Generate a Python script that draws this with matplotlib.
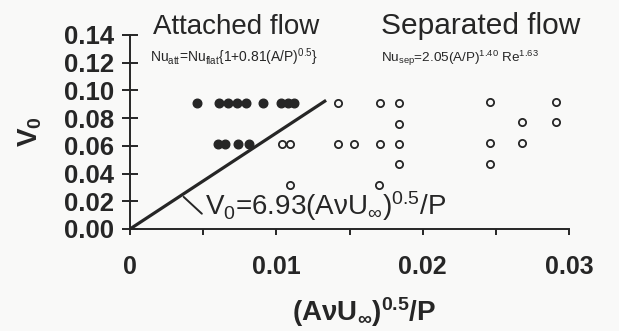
import matplotlib
matplotlib.use("Agg")
import matplotlib.pyplot as plt

plt.rcParams['font.family'] = ['Liberation Sans', 'DejaVu Sans']
plt.rcParams['mathtext.default'] = 'regular'

# Attached flow (filled)
att_x = [0.0046, 0.0061, 0.0067, 0.0073, 0.0079, 0.0091, 0.0103, 0.0108, 0.0112,
         0.0060, 0.0065, 0.0074, 0.0081]
att_y = [0.091, 0.091, 0.091, 0.091, 0.091, 0.091, 0.091, 0.091, 0.091,
         0.061, 0.061, 0.061, 0.061]
# Separated flow (open)
sep_x = [0.0104, 0.0109, 0.0109,
         0.0142, 0.0171, 0.0184, 0.0184, 0.0142, 0.0153, 0.0171, 0.0184, 0.0184, 0.0170,
         0.0246, 0.0291, 0.0268, 0.0291, 0.0246, 0.0268, 0.0246]
sep_y = [0.061, 0.061, 0.032,
         0.091, 0.091, 0.091, 0.076, 0.061, 0.061, 0.061, 0.061, 0.047, 0.032,
         0.092, 0.092, 0.077, 0.077, 0.062, 0.062, 0.047]
slope = 6.93
line_x = [0.0, 0.0134]
xticks = [0, 0.01, 0.02, 0.03]
xtick_labels = ['0', '0.01', '0.02', '0.03']
yticks = [0.00, 0.02, 0.04, 0.06, 0.08, 0.10, 0.12, 0.14]
ytick_labels = ['0.00', '0.02', '0.04', '0.06', '0.08', '0.10', '0.12', '0.14']

ink = '#262626'
W, H = 619, 331
fig = plt.figure(figsize=(W/100, H/100), dpi=100, facecolor='#f9f9f8')
ax = fig.add_axes([130/W, 1-229/H, (569-130)/W, (229-35)/H])
ax.set_facecolor('none')

ax.plot(line_x, [slope*v for v in line_x], color=ink, lw=2.3, solid_capstyle='butt')
ax.plot(att_x, att_y, 'o', ms=6.2, color=ink, mec=ink, clip_on=False)
ax.plot(sep_x, sep_y, 'o', ms=5.2, mfc='none', mec=ink, mew=1.3, clip_on=False)

ax.set_xlim(0, 0.03)
ax.set_ylim(0, 0.14)
for s in ['top', 'right']:
    ax.spines[s].set_visible(False)
for s in ['left', 'bottom']:
    ax.spines[s].set_linewidth(1.4)
    ax.spines[s].set_color(ink)

ax.set_xticks(xticks)
ax.set_xticklabels(xtick_labels, fontsize=18, fontweight='bold', color=ink)
ax.set_xticks([0.005, 0.015, 0.025], minor=True)
ax.set_yticks(yticks)
ax.set_yticklabels(ytick_labels, fontsize=18.5, fontweight='bold', color=ink)
ax.tick_params(axis='x', which='both', direction='out', length=4, width=1.4, color=ink, pad=15)
ax.tick_params(axis='y', direction='inout', length=11.5, width=1.4, color=ink, pad=5.5)

ax.annotate('V$_0$=6.93(AνU$_\\infty$)$^{0.5}$/P', xy=(0.00353, 0.0245),
            xytext=(0.0051, 0.0165), ha='left', va='center', fontsize=20, color=ink,
            arrowprops=dict(arrowstyle='-', color=ink, lw=1.4, shrinkA=0, shrinkB=2,
                            relpos=(0, 0.2)))

fig.text(153/W, 1-34/H, 'Attached flow', fontsize=20, color=ink, ha='left', va='baseline')
fig.text(381/W, 1-34/H, 'Separated flow', fontsize=21.5, color=ink, ha='left', va='baseline')
fig.text(150/W, 1-62/H, 'Nu$_{att}$=Nu$_{flat}${1+0.81(A/P)$^{0.5}$}', fontsize=10,
         color=ink, ha='left', va='baseline')
fig.text(381/W, 1-62/H, 'Nu$_{sep}$=2.05(A/P)$^{1.40}$ Re$^{1.63}$', fontsize=9.7,
         color=ink, ha='left', va='baseline')

fig.text(30/W, 1-132/H, 'V$_0$', fontsize=20, fontweight='bold', color=ink,
         rotation=90, ha='center', va='center')
fig.text(364/W, 1-312/H, '(AνU$_\\infty$)$^{0.5}$/P', fontsize=20, fontweight='bold',
         color=ink, ha='center', va='center')

fig.savefig('out.png', dpi=100, facecolor=fig.get_facecolor())
